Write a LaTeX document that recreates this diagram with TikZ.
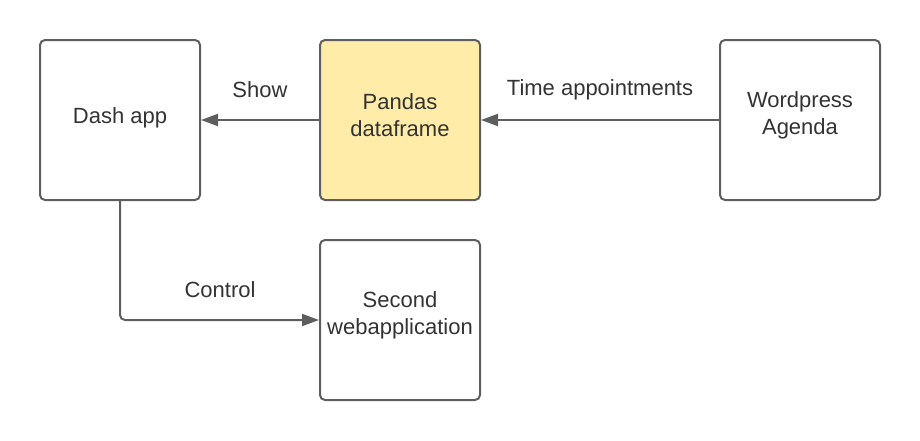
\documentclass[tikz,border=0pt]{standalone}
\usepackage{fontspec}
\setmainfont{Liberation Sans}
\usepackage{xcolor}
\usetikzlibrary{positioning,calc,arrows.meta}

\definecolor{boxline}{HTML}{5E5E5E}
\definecolor{boxtext}{HTML}{333333}
\definecolor{pandafill}{HTML}{FFECA8}

\tikzset{
    box/.style={draw=boxline, line width=2pt, rounded corners=5pt, fill=white,
        minimum width=160pt, minimum height=160pt},
    boxtext/.style={text=boxtext, font=\fontsize{22}{27}\selectfont, align=center},
    flow/.style={draw=boxline, line width=2pt, -{Triangle[length=17pt,width=12pt]}},
    lbl/.style={text=boxtext, font=\fontsize{22}{27}\selectfont}
}

\begin{document}
\begin{tikzpicture}[x=1pt, y=-1pt]
    % Canvas
    \useasboundingbox (0,0) rectangle (920,440);

    % Boxes
    \node[box, label={[boxtext, yshift=2pt]center:Dash app}] (dash) at (120,120) {};
    \node[box, fill=pandafill, label={[boxtext, yshift=5pt]center:Pandas\\dataframe}] (pandas) at (400,120) {};
    \node[box, label={[boxtext, yshift=5pt]center:Wordpress\\Agenda}] (wordpress) at (800,120) {};
    \node[box, label={[boxtext, yshift=5pt]center:Second\\webapplication}] (second) at (400,320) {};

    % Connectors
    \draw[flow] (pandas.west) -- (dash.east);
    \draw[flow] (wordpress.west) -- (pandas.east);
    \draw[flow, rounded corners=5pt] (dash.south) |- (second.west);

    % Labels
    \node[lbl] (show) at (260,90) {Show};
    \node[lbl] (time) at (600,90) {Time appointments};
    \node[lbl] (control) at (220,290) {Control};
\end{tikzpicture}
\end{document}
